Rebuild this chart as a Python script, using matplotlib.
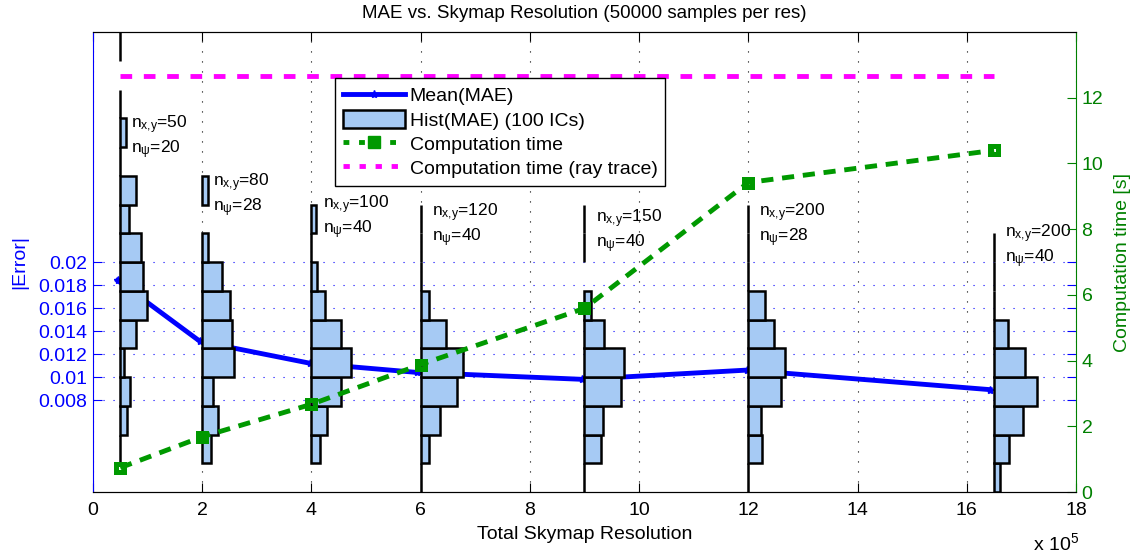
import matplotlib
matplotlib.use('Agg')
from matplotlib import pyplot as plt
from matplotlib.patches import Patch
from matplotlib.lines import Line2D

plt.rcParams['font.family'] = ['Liberation Sans', 'DejaVu Sans']
plt.rcParams['mathtext.default'] = 'regular'

# skymap resolutions (x 10^5) where histograms sit
res_pos = [0.5, 2, 4, 6, 9, 12, 16.5]
mean_pos = [0.45, 1.96, 3.97, 5.93, 8.95, 11.97, 16.43]
mean_mae = [0.0184, 0.0131, 0.0112, 0.0104, 0.0098, 0.0106, 0.0089]
comp_time = [0.74, 1.68, 2.67, 3.88, 5.59, 9.42, 10.40]
ray_time = 12.67
n_xy = [50, 80, 100, 120, 150, 200, 200]
n_psi = [20, 28, 40, 40, 40, 28, 40]

# histogram counts per bin of width 0.0025 starting at 0 (None = bin not drawn)
bin_w = 0.0025
N = None
hist_counts = [
    [N, 0, 5, 7, 3, 11, 19, 16, 15, 6, 11, 0, 4, 0, N, 0, 0],
    [N, 6, 11, 8, 23, 21, 20, 14, 4, N, 4],
    [N, 6, 11, 21, 28, 21, 10, 4, 0, 3],
    [0, 6, 14, 26, 30, 18, 6, 0, 0, 0],
    [0, 12, 13, 26, 28, 14, 5, N, 0, 0],
    [0, 10, 9, 23, 26, 18, 12, 0, 0, 0],
    [4, 11, 21, 31, 22, 10, 0, 0, 0],
]
label_y = [0.03165, 0.02655, 0.02465, 0.02395, 0.02343, 0.02395, 0.02214]

err_ticks = [0.008, 0.01, 0.012, 0.014, 0.016, 0.018, 0.02]
err_labels = ['0.008', '0.01', '0.012', '0.014', '0.016', '0.018', '0.02']
time_ticks = [0, 2, 4, 6, 8, 10, 12]
x_ticks = list(range(0, 19, 2))

count_w = 1.4 * 18 / 983
bar_color = '#a6caf4'
green = '#009900'
axis_green = '#008000'

fig = plt.figure(figsize=(11.35, 5.54), dpi=100)
ax1 = fig.add_axes([0.0819, 0.1119, 0.8661, 0.8303])

ax1.plot(mean_pos, mean_mae, '-', color='blue', lw=3.5, marker='*', ms=6, zorder=1)

for hx, counts in zip(res_pos, hist_counts):
    ys = [i * bin_w for i, c in enumerate(counts) if c is not None]
    ws = [c * count_w for c in counts if c is not None]
    ax1.barh(ys, ws, height=bin_w, left=hx, align='edge', color=bar_color,
             edgecolor='black', linewidth=1.8, zorder=2)

for hx, ly, a, b in zip(res_pos, label_y, n_xy, n_psi):
    ax1.annotate(f'n$_{{x{{,}}y}}$={a}', (hx, ly), xytext=(8, 0), textcoords='offset points',
                 fontsize=12.5, va='baseline', ha='left', annotation_clip=False)
    ax1.annotate(f'n$_{{\\psi}}$={b}', (hx, ly), xytext=(8, -18), textcoords='offset points',
                 fontsize=12.5, va='baseline', ha='left', annotation_clip=False)

ax1.set_xlim(0, 18)
ax1.set_ylim(0, 0.04)
ax1.set_xticks(x_ticks)
ax1.set_yticks(err_ticks)
ax1.set_yticklabels(err_labels)
ax1.grid(axis='x', color='black', linestyle=(0, (1, 8)), lw=0.8)
ax1.grid(axis='y', color='blue', linestyle=(0, (1, 8)), lw=0.8)
ax1.set_xlabel('Total Skymap Resolution', fontsize=14, labelpad=5)
ax1.set_ylabel('|Error|', color='blue', fontsize=14, labelpad=7)
ax1.set_title('MAE vs. Skymap Resolution (50000 samples per res)', fontsize=13.5, pad=10)
ax1.text(0.956, -0.126, 'x 10$^{5}$', transform=ax1.transAxes, fontsize=14,
         ha='left', va='baseline')

ax2 = ax1.twinx()
ax2.plot(res_pos, [ray_time] * len(res_pos), color='magenta', lw=3.5, dashes=(2.4, 2.4))
ax2.plot(res_pos, comp_time, color=green, lw=3.5, dashes=(2.5, 1.8),
         marker='s', ms=6, mfc='none', mec=green, mew=3.6)
ax2.set_ylim(0, 14)
ax2.set_yticks(time_ticks)
ax2.set_ylabel('Computation time [s]', color=axis_green, fontsize=14, labelpad=8)

ax1.tick_params(axis='x', direction='in', top=True, length=6.5, labelsize=14, pad=7)
ax1.tick_params(axis='y', direction='in', right=True, length=6.5, colors='blue',
                labelsize=14, pad=4)
ax2.tick_params(axis='y', direction='in', length=6.5, colors=axis_green, labelsize=14, pad=4)

ax1.spines['left'].set_color('blue')
ax1.spines['right'].set_visible(False)
ax2.spines['left'].set_visible(False)
ax2.spines['right'].set_color(axis_green)

handles = [
    Line2D([], [], color='blue', lw=3.5, marker='*', ms=6),
    Patch(facecolor=bar_color, edgecolor='black', linewidth=1.8),
    Line2D([], [], color=green, lw=3.5, dashes=(1.2, 2.0), marker='s', ms=9),
    Line2D([], [], color='magenta', lw=3.5, dashes=(1.3, 2.0)),
]
labels = ['Mean(MAE)', 'Hist(MAE) (100 ICs)', 'Computation time',
          'Computation time (ray trace)']
leg = ax2.legend(handles, labels, loc='upper left', bbox_to_anchor=(0.246, 0.9),
                 fontsize=14, frameon=True, fancybox=False, edgecolor='black',
                 framealpha=1, handlelength=3.2, handleheight=1.03, labelspacing=0.24,
                 handletextpad=0.26, borderpad=0.4, borderaxespad=0)
leg.get_frame().set_linewidth(1.0)

fig.savefig('out.png', dpi=100)
